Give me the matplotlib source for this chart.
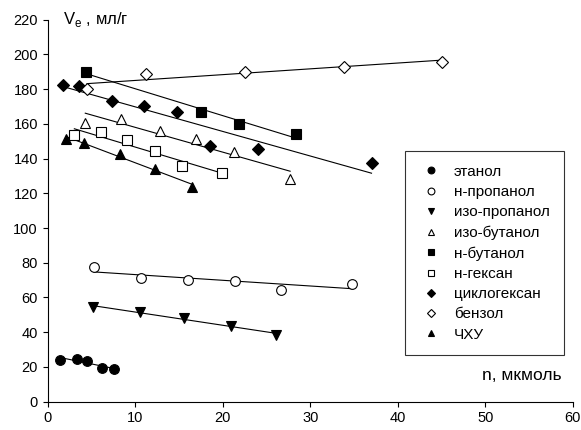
import numpy as np
import matplotlib
matplotlib.use("Agg")
import matplotlib.pyplot as plt

plt.rcParams['font.family'] = ['Liberation Sans', 'DejaVu Sans']
plt.rcParams['mathtext.fontset'] = 'custom'
plt.rcParams['mathtext.rm'] = 'Liberation Sans'

# data: n (мкмоль) and Ve (мл/г)
ethanol_x = [1.4, 3.3, 4.5, 6.2, 7.6]
ethanol_y = [24.1, 24.7, 23.6, 19.6, 18.7]

npropanol_x = [5.3, 10.7, 16.0, 21.4, 26.7, 34.8]
npropanol_y = [77.4, 71.4, 70.3, 69.7, 64.3, 68.0]

isopropanol_x = [5.2, 10.5, 15.6, 20.9, 26.1]
isopropanol_y = [54.4, 51.9, 47.9, 43.7, 38.6]

isobutanol_x = [4.3, 8.4, 12.8, 17.0, 21.3, 27.7]
isobutanol_y = [160.8, 162.7, 156.0, 151.5, 144.0, 128.2]

nbutanol_x = [4.4, 17.5, 21.9, 28.4]
nbutanol_y = [190.2, 167.0, 160.0, 154.0]

nhexane_x = [3.05, 6.1, 9.1, 12.3, 15.3, 19.9]
nhexane_y = [153.4, 155.6, 150.5, 144.4, 135.7, 131.7]

cyclohexane_x = [1.7, 3.6, 7.4, 11.0, 14.8, 18.5, 24.0, 37.0]
cyclohexane_y = [182.6, 181.8, 173.1, 170.6, 166.6, 147.3, 145.3, 137.6]

benzene_x = [4.5, 11.2, 22.5, 33.9, 45.1]
benzene_y = [180.1, 188.6, 190.1, 193.0, 195.9]

chku_x = [2.1, 4.1, 8.3, 12.3, 16.5]
chku_y = [151.5, 148.8, 142.7, 134.0, 123.9]

series = [
    ("этанол", ethanol_x, ethanol_y, 'o', 'black', 7),
    ("н-пропанол", npropanol_x, npropanol_y, 'o', 'white', 7),
    ("изо-пропанол", isopropanol_x, isopropanol_y, 'v', 'black', 7),
    ("изо-бутанол", isobutanol_x, isobutanol_y, '^', 'white', 7),
    ("н-бутанол", nbutanol_x, nbutanol_y, 's', 'black', 6.5),
    ("н-гексан", nhexane_x, nhexane_y, 's', 'white', 6.5),
    ("циклогексан", cyclohexane_x, cyclohexane_y, 'D', 'black', 6.5),
    ("бензол", benzene_x, benzene_y, 'D', 'white', 6.5),
    ("ЧХУ", chku_x, chku_y, '^', 'black', 7),
]

fig = plt.figure(figsize=(5.81, 4.30), dpi=100)
ax = fig.add_axes([0.082, 0.066, 0.904, 0.888])

for name, x, y, m, fc, ms in series:
    x = np.array(x)
    y = np.array(y)
    # linear fit over the range of each series
    k, b = np.polyfit(x, y, 1)
    xx = np.array([x.min(), x.max()])
    ax.plot(xx, k * xx + b, color='black', lw=0.8, zorder=2)
    ax.plot(x, y, linestyle='none', marker=m, markersize=ms,
            markerfacecolor=fc, markeredgecolor='black', markeredgewidth=0.8,
            label=name, zorder=3)

ax.set_xlim(0, 60)
ax.set_ylim(0, 220)
ax.set_xticks(range(0, 61, 10))
ax.set_yticks(range(0, 221, 20))
ax.spines['top'].set_visible(False)
ax.spines['right'].set_visible(False)
ax.spines['left'].set_linewidth(0.8)
ax.spines['bottom'].set_linewidth(0.8)
ax.tick_params(direction='out', length=3.5, width=0.8, labelsize=10.5)

ax.text(1.7, 217.6, "V$_\\mathregular{e}$ , мл/г", fontsize=12, va='baseline', ha='left')
ax.text(58.7, 12.2, "n, мкмоль", fontsize=12.5, va='baseline', ha='right')

leg = ax.legend(loc='upper left', bbox_to_anchor=(405 / 581, 1 - 151 / 430),
                bbox_transform=fig.transFigure, fontsize=11, frameon=True,
                fancybox=False, borderpad=0.9, handlelength=1.6,
                handletextpad=0.7, labelspacing=0.41, markerscale=0.7,
                borderaxespad=0)
leg.get_frame().set_edgecolor('black')
leg.get_frame().set_linewidth(0.8)

fig.savefig("out.png", dpi=100)
